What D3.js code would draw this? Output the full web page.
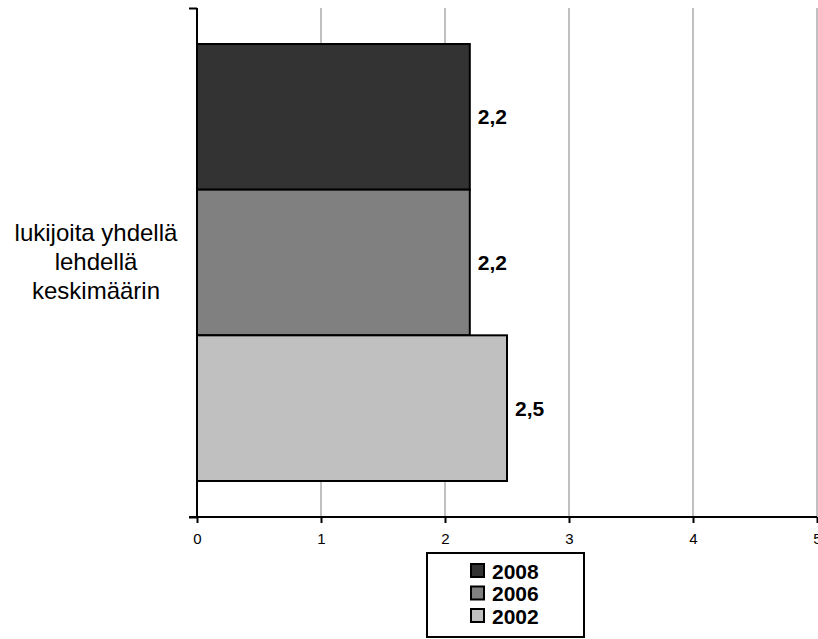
<!DOCTYPE html>
<html><head><meta charset="utf-8">
<script src="https://cdn.jsdelivr.net/npm/d3@7"></script>
<style>body{margin:0;background:#fff}svg{display:block}</style>
</head><body>
<svg id="c" width="818" height="639"></svg>
<script>
const categories = ["lukijoita yhdellä lehdellä keskimäärin"];
const categoryLines = ["lukijoita yhdellä", "lehdellä", "keskimäärin"];
const seriesNames = ["2008", "2006", "2002"];
const seriesValues = [2.2, 2.2, 2.5];
const seriesColors = ["#333333", "#808080", "#c0c0c0"];
const xTicks = [0, 1, 2, 3, 4, 5];

(function () {
const svg = d3.select("#c");
const font = "Arial, 'Liberation Sans', sans-serif";
const pL = 197, pR = 817, pT = 8, pB = 517;

const x = d3.scaleLinear().domain([0, 5]).range([pL, pR]);
const yCat = d3.scaleBand().domain(categories).range([pT, pB]).paddingOuter(0.0824).paddingInner(0);
const ySer = d3.scaleBand().domain(seriesNames).range([0, yCat.bandwidth()]).padding(0);

// gridlines
svg.append("g").selectAll("line").data(xTicks.filter(d => d > 0)).join("line")
  .attr("x1", d => x(d)).attr("x2", d => x(d))
  .attr("y1", pT).attr("y2", pB)
  .attr("stroke", "#c0c0c0").attr("stroke-width", 2);

// bars
const g = svg.append("g").attr("transform", `translate(0,${yCat(categories[0])})`);
g.selectAll("rect").data(seriesNames).join("rect")
  .attr("x", x(0))
  .attr("y", d => ySer(d))
  .attr("width", (d, i) => x(seriesValues[i]) - x(0))
  .attr("height", ySer.bandwidth())
  .attr("fill", (d, i) => seriesColors[i])
  .attr("stroke", "#000").attr("stroke-width", 2);

g.selectAll("text").data(seriesNames).join("text")
  .attr("x", (d, i) => x(seriesValues[i]) + 8)
  .attr("y", d => ySer(d) + ySer.bandwidth() / 2)
  .attr("dy", "0.35em")
  .attr("font-family", font).attr("font-weight", "bold").attr("font-size", 21)
  .text((d, i) => String(seriesValues[i]).replace(".", ","));

// x axis
const xAxis = d3.axisBottom(x).tickValues(xTicks).tickSize(6).tickPadding(10).tickFormat(d3.format("d"));
const ax = svg.append("g").attr("transform", `translate(0,${pB})`).call(xAxis);
ax.select(".domain").attr("d", `M${pL - 8},0H${pR}`).attr("stroke", "#000").attr("stroke-width", 2);
ax.selectAll(".tick line").attr("stroke", "#000").attr("stroke-width", 2);
ax.selectAll(".tick text").attr("font-family", font).attr("font-size", 15).attr("fill", "#000");

// y axis
const yAxis = d3.axisLeft(d3.scaleLinear().domain([0, 1]).range([pB, pT])).tickValues([0, 1]).tickSize(8).tickFormat("");
const ay = svg.append("g").attr("transform", `translate(${pL},0)`).call(yAxis);
ay.select(".domain").attr("d", `M0,${pT}V${pB}`).attr("stroke", "#000").attr("stroke-width", 2);
ay.selectAll(".tick line").attr("stroke", "#000").attr("stroke-width", 2);

// category label
const cy = yCat(categories[0]) + yCat.bandwidth() / 2;
svg.append("text").attr("x", 96).attr("text-anchor", "middle")
  .attr("font-family", font).attr("font-size", 24)
  .selectAll("tspan").data(categoryLines).join("tspan")
  .attr("x", 96).attr("y", (d, i) => cy + 7.5 + (i - 1) * 29)
  .text(d => d);

// legend
const lg = svg.append("g");
lg.append("rect").attr("x", 427).attr("y", 553).attr("width", 157).attr("height", 84)
  .attr("fill", "#fff").attr("stroke", "#000").attr("stroke-width", 2);
const items = lg.selectAll("g.item").data(seriesNames).join("g").attr("class", "item")
  .attr("transform", (d, i) => `translate(471,${564 + i * 22.5})`);
items.append("rect").attr("width", 13).attr("height", 13)
  .attr("fill", (d, i) => seriesColors[i]).attr("stroke", "#000").attr("stroke-width", 2);
items.append("text").attr("x", 21).attr("y", 7).attr("dy", "0.36em")
  .attr("font-family", font).attr("font-weight", "bold").attr("font-size", 21)
  .text(d => d);
})();
</script>
</body></html>
